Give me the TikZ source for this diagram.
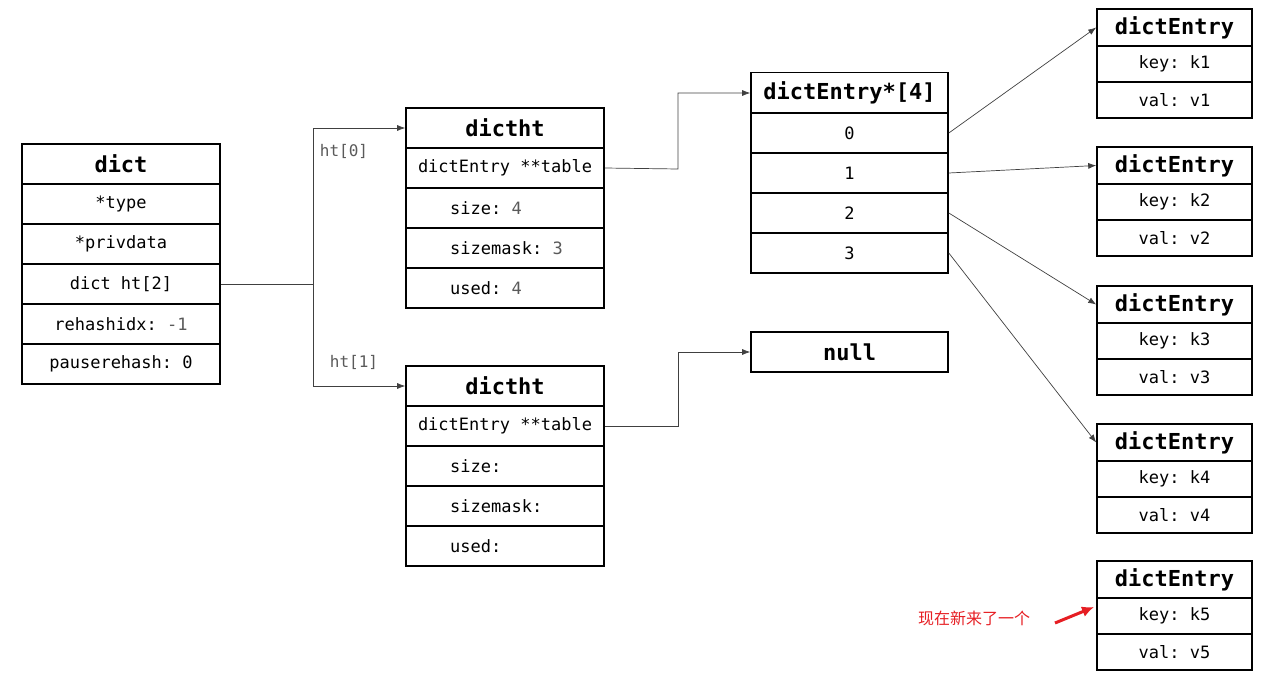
\documentclass[tikz,border=0pt]{standalone}
\usepackage{fontspec}
\setmonofont{DejaVu Sans Mono}
\newfontfamily\cjk{Noto Sans CJK SC}
\usetikzlibrary{arrows.meta}
\definecolor{txtgray}{RGB}{90,90,90}
\definecolor{redc}{RGB}{230,30,35}
\newcommand\mycell[6]{\node[cell, minimum width=#4, minimum height=#5] (#1) at (#2,#3) {#6};}
\begin{document}
\begin{tikzpicture}[x=1pt,y=-1pt,
  cell/.style={draw, line width=1.6pt, inner sep=0pt, font=\ttfamily\fontsize{17}{20}\selectfont},
  head/.style={font=\ttfamily\bfseries\fontsize{22}{26}\selectfont},
  conn/.style={draw=black!75, line width=0.7pt},
  arr/.style={conn, -{Latex[length=8pt,width=6pt]}},
  gv/.style={text=txtgray},
  lbl/.style={anchor=west, inner sep=0pt, font=\ttfamily\fontsize{17}{20}\selectfont}]
\useasboundingbox (0,0) rectangle (1271,679);
% dict
\mycell{d0}{121}{164}{198pt}{40pt}{\textbf{\fontsize{22}{26}\selectfont dict}}
\mycell{d1}{121}{204}{198pt}{40pt}{*type}
\mycell{d2}{121}{244}{198pt}{40pt}{*privdata}
\mycell{d3}{121}{284}{198pt}{40pt}{dict ht[2]}
\mycell{d4}{121}{324}{198pt}{40pt}{rehashidx: {\color{txtgray}-1}}
\mycell{d5}{121}{364}{198pt}{40pt}{pauserehash: 0}
% dictht 0
\mycell{a0}{505}{128}{198pt}{40pt}{\textbf{\fontsize{22}{26}\selectfont dictht}}
\mycell{a1}{505}{168}{198pt}{40pt}{dictEntry **table}
\mycell{a2}{505}{208}{198pt}{40pt}{}
\mycell{a3}{505}{248}{198pt}{40pt}{}
\mycell{a4}{505}{288}{198pt}{40pt}{}
\node[lbl] (a2t) at (450,208) {size: {\color{txtgray}4}};
\node[lbl] (a3t) at (450,248) {sizemask: {\color{txtgray}3}};
\node[lbl] (a4t) at (450,288) {used:  {\color{txtgray}4}};
% dictht 1
\mycell{b0}{505}{386}{198pt}{40pt}{\textbf{\fontsize{22}{26}\selectfont dictht}}
\mycell{b1}{505}{426}{198pt}{40pt}{dictEntry **table}
\mycell{b2}{505}{466}{198pt}{40pt}{}
\mycell{b3}{505}{506}{198pt}{40pt}{}
\mycell{b4}{505}{546}{198pt}{40pt}{}
\node[lbl] (b2t) at (450,466) {size:};
\node[lbl] (b3t) at (450,506) {sizemask:};
\node[lbl] (b4t) at (450,546) {used:};
% table
\mycell{t0}{849.5}{93}{197pt}{41pt}{\textbf{\fontsize{22}{26}\selectfont dictEntry*[4]}}
\mycell{t1}{849.5}{133}{197pt}{40pt}{0}
\mycell{t2}{849.5}{173}{197pt}{40pt}{1}
\mycell{t3}{849.5}{213}{197pt}{40pt}{2}
\mycell{t4}{849.5}{253}{197pt}{40pt}{3}
\mycell{nl}{849.5}{352}{197pt}{40pt}{\textbf{\fontsize{22}{26}\selectfont null}}
% entries
\foreach \i/\y in {1/9,2/147,3/286,4/424,5/561}{
  \node[cell, minimum width=155pt, minimum height=37pt] (e\i h) at (1174.5,\y+18.5) {\textbf{\fontsize{22}{26}\selectfont dictEntry}};
  \node[cell, minimum width=155pt, minimum height=36pt] (e\i k) at (1174.5,\y+55) {key: k\i};
  \node[cell, minimum width=155pt, minimum height=36pt] (e\i v) at (1174.5,\y+91) {val: v\i};
}
% connectors
\coordinate (j) at (313,284);
\coordinate (jt) at (313,128);
\coordinate (jb) at (313,386);
\draw[conn] (d3.east) -- (j);
\draw[arr] (j) -- (jt) -- (a0.west);
\draw[arr] (j) -- (jb) -- (b0.west);
\node[gv, font=\ttfamily\fontsize{16}{18}\selectfont] (l0) at (344,151) {ht[0]};
\node[gv, font=\ttfamily\fontsize{16}{18}\selectfont] (l1) at (354,362) {ht[1]};
\coordinate (c0) at (678,169);
\coordinate (c1) at (678,426);
\draw[arr] (a1.east) -- (c0) |- (t0.west);
\draw[arr] (b1.east) -- (c1) |- (nl.west);
\draw[arr] (t1.east) -- (e1h.west);
\draw[arr] (t2.east) -- (e2h.west);
\draw[arr] (t3.east) -- (e3h.west);
\draw[arr] (t4.east) -- (e4h.west);
% red note
\node[text=redc, font=\cjk\fontsize{16}{18}\selectfont] (note) at (974,618) {现在新来了一个};
\coordinate (rs) at (1055,623);
\coordinate (re) at (1094,607);
\draw[redc, line width=3pt, -{Latex[length=12pt,width=11pt]}] (rs) -- (re);
\end{tikzpicture}
\end{document}
